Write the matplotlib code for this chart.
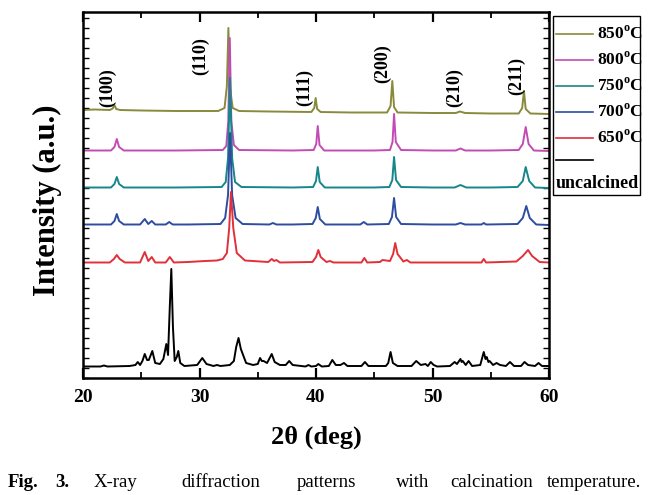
import matplotlib
matplotlib.use("Agg")
import matplotlib.pyplot as plt
from matplotlib.lines import Line2D
from matplotlib.patches import Rectangle
from matplotlib.ticker import MultipleLocator

plt.rcParams['font.family'] = ['Liberation Serif', 'DejaVu Serif']
plt.rcParams['mathtext.fontset'] = 'custom'
plt.rcParams['mathtext.rm'] = 'Liberation Serif:bold'
plt.rcParams['mathtext.bf'] = 'Liberation Serif:bold'

# ---- data: (2theta, intensity above each pattern's own baseline) ----
pts_850 = [(20.0, 4), (21.0, 4.5), (22.3, 4), (22.55, 5.5), (22.7, 9), (22.85, 5), (23.2, 4),
           (25.0, 3.5), (28.0, 3), (31.6, 3), (32.15, 6), (32.35, 28), (32.48, 86), (32.62, 26),
           (32.85, 6), (33.4, 3), (36.0, 2.5), (39.6, 2), (39.85, 6), (39.97, 16), (40.1, 5),
           (40.4, 2), (43.0, 1.5), (46.1, 1.5), (46.4, 8), (46.55, 33), (46.7, 7), (47.0, 1.5),
           (50.0, 1), (52.0, 1), (52.35, 2.5), (52.8, 1), (55.0, 0.5), (57.4, 0.5), (57.7, 6),
           (57.85, 23), (58.0, 5), (58.4, 0.5), (60.0, 0)]
pts_800 = [(20.0, 0.5), (22.4, 0.5), (22.7, 4), (22.9, 12), (23.1, 4), (23.5, 0.5), (28.0, 0.5),
           (32.0, 1), (32.3, 5), (32.47, 30), (32.6, 113), (32.73, 30), (32.95, 6), (33.4, 1),
           (38.0, 0.5), (39.8, 1), (40.02, 7), (40.15, 25), (40.3, 6), (40.7, 0.5), (45.0, 0.5),
           (46.35, 1), (46.57, 9), (46.7, 37), (46.85, 9), (47.3, 1), (50.0, 0.5), (52.0, 0.5),
           (52.4, 2.5), (52.8, 0.5), (55.0, 0.5), (57.4, 1), (57.75, 7), (58.0, 24), (58.25, 7),
           (58.7, 0.5), (60.0, 0)]
pts_750 = [(20.0, 0.5), (22.4, 0.5), (22.7, 4), (22.9, 11), (23.1, 4), (23.5, 0.5), (28.0, 0.5),
           (31.9, 1), (32.25, 6), (32.45, 30), (32.62, 110), (32.8, 30), (33.05, 6), (33.6, 1),
           (38.0, 0.5), (39.75, 1), (40.0, 7), (40.15, 21), (40.32, 6), (40.75, 0.5), (45.0, 0.5),
           (46.3, 1), (46.55, 8), (46.7, 31), (46.87, 8), (47.3, 1), (50.0, 0.5), (51.9, 0.5),
           (52.4, 3), (52.9, 0.5), (55.0, 0.5), (57.3, 1), (57.75, 7), (58.0, 21), (58.3, 7),
           (58.8, 0.5), (60.0, 0)]
pts_700 = [(20.0, 0.5), (22.4, 0.5), (22.7, 4), (22.9, 11), (23.1, 4), (23.5, 0.5), (24.9, 0.5),
           (25.3, 6), (25.6, 1), (25.9, 4), (26.2, 0.5), (27.1, 0.5), (27.4, 3), (27.7, 0.5),
           (29.0, 0.5), (31.8, 1), (32.2, 7), (32.45, 30), (32.62, 92), (32.8, 30), (33.1, 7),
           (33.7, 1), (36.0, 0.5), (36.3, 2), (36.6, 0.5), (38.0, 0.5), (39.7, 1), (39.98, 7),
           (40.15, 18), (40.33, 6), (40.8, 0.5), (43.8, 0.5), (44.1, 3), (44.4, 0.5), (46.25, 1),
           (46.52, 8), (46.7, 27), (46.88, 8), (47.3, 1), (50.0, 0.5), (52.0, 0.5), (52.4, 2),
           (52.8, 0.5), (54.2, 0.5), (54.4, 2), (54.6, 0.5), (57.3, 1), (57.75, 7), (58.05, 19),
           (58.35, 7), (58.9, 0.5), (60.0, 0)]
pts_650 = [(20.0, 0.5), (22.3, 0.5), (22.65, 4), (22.9, 8), (23.15, 4), (23.6, 0.5), (24.9, 0.5),
           (25.3, 11), (25.6, 2), (25.9, 6), (26.2, 0.5), (27.1, 0.5), (27.45, 6), (27.8, 0.5),
           (29.0, 1), (30.5, 2), (31.5, 2.5), (32.0, 4), (32.35, 10), (32.55, 35), (32.7, 71),
           (32.9, 35), (33.2, 10), (33.9, 2.5), (35.9, 1), (36.2, 4), (36.4, 2), (36.6, 3),
           (36.9, 0.5), (39.7, 1), (40.0, 6), (40.2, 13), (40.4, 6), (40.9, 1), (41.2, 2),
           (41.5, 0.5), (43.9, 0.5), (44.15, 5), (44.4, 0.5), (45.5, 1), (45.7, 3), (46.35, 2),
           (46.62, 9), (46.8, 20), (47.0, 9), (47.5, 1.5), (47.8, 3), (48.1, 0.5), (51.0, 0.5),
           (54.2, 0.5), (54.4, 4), (54.6, 0.5), (57.2, 1.5), (57.75, 7), (58.2, 13), (58.55, 7),
           (59.2, 1), (60.0, 0.5)]
pts_unc = [(20.0, 0.5), (21.5, 0.5), (21.8, 1.5), (22.1, 0.5), (24.0, 1), (24.5, 2), (24.7, 5),
           (24.9, 2), (25.1, 6), (25.3, 13), (25.5, 7), (25.65, 7), (25.95, 16), (26.2, 4),
           (26.6, 3), (26.9, 8), (27.15, 23), (27.3, 12), (27.45, 60), (27.58, 98), (27.72, 40),
           (27.87, 6), (28.05, 10), (28.18, 16), (28.35, 4), (28.7, 1), (29.8, 2), (30.24, 9),
           (30.6, 3), (31.2, 1), (31.5, 2), (31.8, 1), (32.6, 2), (32.95, 6), (33.15, 20),
           (33.35, 29), (33.55, 18), (34.0, 4), (34.6, 2), (35.0, 3), (35.2, 9), (35.35, 6),
           (35.5, 6), (35.8, 4), (36.2, 13), (36.45, 5), (36.6, 4), (36.9, 2), (37.4, 2),
           (37.7, 6), (38.0, 2), (39.1, 0.5), (39.35, 2), (39.6, 0.5), (40.0, 1), (40.2, 3),
           (40.5, 0.5), (41.1, 1), (41.4, 7), (41.7, 2), (42.1, 2), (42.4, 4), (42.7, 1),
           (43.9, 1), (44.2, 5), (44.5, 1), (46.0, 1), (46.2, 4), (46.4, 15), (46.6, 4),
           (47.0, 1), (48.2, 1), (48.6, 6), (49.0, 2), (49.4, 3), (49.6, 1), (49.85, 5),
           (50.1, 2), (50.4, 0.5), (51.5, 1), (51.9, 5), (52.1, 3), (52.4, 8), (52.5, 5),
           (52.6, 6), (52.85, 2), (53.1, 6), (53.4, 1), (54.1, 2), (54.4, 15), (54.55, 8),
           (54.65, 10), (54.8, 5), (54.9, 6), (55.2, 2), (55.5, 4), (55.8, 2), (56.3, 1),
           (56.65, 5), (57.0, 1), (57.6, 1), (57.9, 5), (58.2, 2), (58.8, 1), (59.1, 4),
           (59.4, 1), (60.0, 1)]

series_labels = ['850', '800', '750', '700', '650', 'uncalcined']
series_points = [pts_850, pts_800, pts_750, pts_700, pts_650, pts_unc]
baselines = [264, 227, 190, 153, 115, 11]
colors = ['#8a8a3c', '#c24cb4', '#17868a', '#2e4da0', '#e0303a', '#000000']

peak_labels = ['(100)', '(110)', '(111)', '(200)', '(210)', '(211)']
peak_label_x = [22.15, 30.1, 39.05, 45.7, 51.9, 57.2]
peak_label_y = [290, 322, 291, 314, 290, 302]

W, H = 662, 495
fig = plt.figure(figsize=(W / 100, H / 100), dpi=100)
ax = fig.add_axes([83 / W, 1 - 378 / H, (549 - 83) / W, (378 - 12) / H])

for pts, base, c in zip(series_points, baselines, colors):
    xs = [p[0] for p in pts]
    ys = [p[1] + base for p in pts]
    ax.plot(xs, ys, color=c, lw=1.4, solid_joinstyle='round')

for lab, x, y in zip(peak_labels, peak_label_x, peak_label_y):
    ax.text(x, y, lab, rotation=90, ha='center', va='center', fontsize=13, fontweight='bold')

ax.set_xlim(20, 60)
ax.set_ylim(0, 366)
ax.xaxis.set_major_locator(MultipleLocator(10))
ax.xaxis.set_minor_locator(MultipleLocator(5))
ax.yaxis.set_major_locator(MultipleLocator(10))
ax.tick_params(axis='x', which='major', direction='in', length=7, width=1.6, top=True,
               labelsize=14, pad=8)
ax.tick_params(axis='x', which='minor', direction='in', length=4, width=1.3, top=True)
ax.tick_params(axis='y', which='major', direction='in', length=4, width=1.0, right=True,
               labelleft=False)
for lbl in ax.get_xticklabels():
    lbl.set_fontweight('bold')
for s in ax.spines.values():
    s.set_linewidth(1.8)

fig.text(316 / W, 1 - 437 / H, '2θ (deg)', ha='center', va='center', fontsize=19,
         fontweight='bold')
fig.text(47 / W, 1 - 200 / H, 'Intensity (a.u.)', ha='center', va='center', rotation=90,
         fontsize=22, fontweight='bold')

# legend drawn by hand in figure pixel positions
fig.add_artist(Rectangle((553 / W, 1 - 195 / H), (640 - 553) / W, (195 - 16) / H,
                         transform=fig.transFigure, fill=False, lw=1.0, ec='black'))
leg_y = [34, 60, 86, 112, 138, 160]
for i, (lab, c) in enumerate(zip(series_labels, colors)):
    y = 1 - leg_y[i] / H
    fig.add_artist(Line2D([556 / W, 593 / W], [y, y], transform=fig.transFigure, color=c,
                          lw=1.2))
    if lab != 'uncalcined':
        fig.text(597 / W, y, lab + r'$^{\mathbf{o}}$C', ha='left', va='center', fontsize=12.5,
                 fontweight='bold')
fig.text(556 / W, 1 - 184 / H, 'uncalcined', ha='left', va='center', fontsize=13,
         fontweight='bold')

# caption
cap_words = ['Fig.', '3.', 'X-ray', 'diffraction', 'patterns', 'with', 'calcination',
             'temperature.']
cap_x = [8, 55, 94, 181, 297, 396, 450, 547]
for i, (w, x) in enumerate(zip(cap_words, cap_x)):
    fig.text(x / W, 1 - 487 / H, w, ha='left', va='baseline', fontsize=13.5,
             fontweight='bold' if i < 2 else 'normal')

fig.savefig('out.png', dpi=100)
